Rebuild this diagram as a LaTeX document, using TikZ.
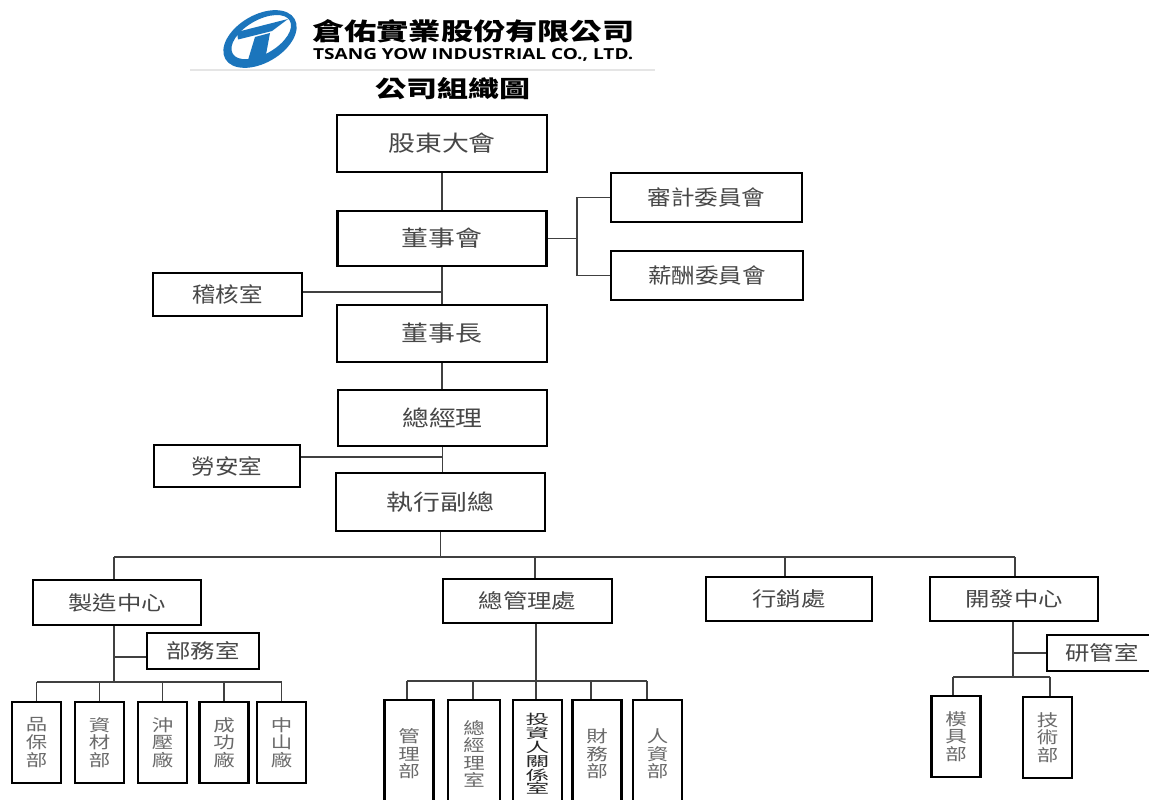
\documentclass[tikz,border=0pt]{standalone}
\usepackage{fontspec}
\usepackage{graphicx}
\newfontfamily\cjkA[FakeStretch=1.22]{Noto Sans CJK TC}
\newfontfamily\cjkB[FakeStretch=1.12]{Noto Sans CJK TC}
\newfontfamily\cjkleaf[FakeStretch=1.3]{Noto Sans CJK TC}
\newfontfamily\cjknarrow[FakeStretch=1.75]{Noto Sans CJK TC}
\newfontfamily\cjkplain{Noto Sans CJK TC}
\newfontfamily\engfont{Open Sans}
\definecolor{logoblue}{HTML}{1B75BC}
\definecolor{boxtext}{HTML}{474747}
\definecolor{leaftext}{HTML}{6A6A6A}
\begin{document}
\begin{tikzpicture}[x=1pt,y=-1pt,
  box/.style={draw=black, line width=2.8pt, inner sep=0pt, fill=white, text=boxtext},
  bigbox/.style={box, font=\cjkA\fontsize{22}{26}\selectfont},
  sidebox/.style={box, font=\cjkB\fontsize{21}{25}\selectfont},
  midbox/.style={box, font=\cjkA\fontsize{20}{24}\selectfont},
  leaf/.style={box, align=center, text=leaftext, minimum width=49pt, font=\cjkleaf\fontsize{16.5}{17.6}\selectfont},
  conn/.style={draw=black!75, line width=1.4pt}
]
\useasboundingbox (0,0) rectangle (1149,800);
\clip (0,0) rectangle (1149,800);
\fill[white] (0,0) rectangle (1149,800);

% ---- logo ----
\fill[logoblue, even odd rule, rotate around={30:(260,39)}]
  (260,39) ellipse [x radius=40, y radius=24]
  (262,38) ellipse [x radius=33, y radius=17];
\fill[logoblue] (237,32) -- (288,19) -- (272,31) -- (238,39.5) -- cycle;
\fill[logoblue] (255,37) -- (270,33) -- (265,60) -- (248,60) -- cycle;
\node[anchor=west, inner sep=0pt] (cname) at (312,31)
  {\resizebox{322pt}{21pt}{\cjkplain\bfseries 倉佑實業股份有限公司}};
\node[anchor=west, inner sep=0pt] (ename) at (313,54.5)
  {\resizebox{320pt}{11pt}{\engfont\bfseries TSANG YOW INDUSTRIAL CO., LTD.}};
\draw[draw=black!10, line width=1.5pt] (190,70) -- (655,70);
\node[inner sep=0pt] (title) at (453,89)
  {\resizebox{155pt}{20pt}{\cjkplain\bfseries 公司組織圖}};

% ---- top chain ----
\node[bigbox, minimum width=210pt, minimum height=57pt] (gsm) at (442,143.5) {股東大會};
\node[bigbox, minimum width=209pt, minimum height=55pt] (bod) at (442,238.5) {董事會};
\node[sidebox, minimum width=191pt, minimum height=49pt] (audit) at (706.5,197.5) {審計委員會};
\node[sidebox, minimum width=192pt, minimum height=49pt] (pay) at (707,275.5) {薪酬委員會};
\node[sidebox, minimum width=149pt, minimum height=43pt] (ia) at (227.5,294.5) {稽核室};
\node[bigbox, minimum width=210pt, minimum height=57pt] (chair) at (442,333.5) {董事長};
\node[bigbox, minimum width=209pt, minimum height=56pt] (gm) at (442.5,418) {總經理};
\node[sidebox, minimum width=146pt, minimum height=42pt] (ls) at (227,466) {勞安室};
\node[bigbox, minimum width=209pt, minimum height=58pt] (evp) at (440.5,502) {執行副總};

\draw[conn] (gsm.south) -- (gsm.south |- bod.north);
\draw[conn] (bod.south) -- (bod.south |- chair.north);
\draw[conn] (chair.south) -- (chair.south |- gm.north);
\draw[conn] (gm.south) -- (gm.south |- evp.north);
\coordinate (cb) at (577,238.5);
\draw[conn] (bod.east) -- (bod.east -| cb);
\draw[conn] (audit.west) -- (audit.west -| cb) -- (pay.west -| cb) -- (pay.west);
\path ([yshift=2.5pt]ia.east) coordinate (iaj);
\draw[conn] (iaj) -- (iaj -| bod.south);
\path ([yshift=9pt]ls.east) coordinate (lsj);
\draw[conn] (lsj) -- (lsj -| gm.south);

% ---- second level ----
\node[midbox, minimum width=168pt, minimum height=45pt] (mfg) at (117,602.5) {製造中心};
\node[midbox, minimum width=169pt, minimum height=44pt] (adm) at (527.5,601) {總管理處};
\node[midbox, minimum width=166pt, minimum height=44pt] (mkt) at (789,599) {行銷處};
\node[midbox, minimum width=168pt, minimum height=44pt] (rd) at (1014,599) {開發中心};

\coordinate (b1) at (114,557);
\coordinate (b2) at (535,557);
\coordinate (b3) at (785,557);
\coordinate (b4) at (1015,557);
\draw[conn] (evp.south) -- (evp.south |- b1);
\draw[conn] (b1) -- (b4);
\draw[conn] (b1) -- (b1 |- mfg.north);
\draw[conn] (b2) -- (b2 |- adm.north);
\draw[conn] (b3) -- (b3 |- mkt.north);
\draw[conn] (b4) -- (b4 |- rd.north);

% ---- manufacturing ----
\node[midbox, minimum width=112pt, minimum height=36pt] (dept) at (203,651) {部務室};
\node[leaf, minimum height=81pt] (q1) at (36.5,742.5) {品\\保\\部};
\node[leaf, minimum height=81pt] (q2) at (99.5,742.5) {資\\材\\部};
\node[leaf, minimum height=81pt] (q3) at (162.5,742.5) {沖\\壓\\廠};
\node[leaf, minimum height=81pt] (q4) at (224,742.5) {成\\功\\廠};
\node[leaf, minimum height=81pt] (q5) at (281.5,742.5) {中\\山\\廠};
\coordinate (mj) at (114,682);
\draw[conn] (mj |- mfg.south) -- (mj);
\path ([yshift=-6pt]dept.west) coordinate (dj);
\draw[conn] (dj) -- (dj -| mj);
\draw[conn] (q1.north |- mj) -- (q5.north |- mj);
\foreach \q in {q1,q2,q3,q4,q5} \draw[conn] (\q.north |- mj) -- (\q.north);

% ---- administration ----
\node[leaf, minimum height=108pt] (a1) at (409,754) {管\\理\\部};
\node[leaf, minimum width=52pt, minimum height=108pt] (a2) at (474,754) {總\\經\\理\\室};
\node[leaf, minimum height=108pt, text=black!85, font=\cjknarrow\fontsize{13.5}{13.8}\selectfont] (a3) at (537.5,754) {投\\資\\人\\關\\係\\室};
\node[leaf, minimum height=108pt] (a4) at (597,754) {財\\務\\部};
\node[leaf, minimum height=108pt] (a5) at (657.5,754) {人\\資\\部};
\coordinate (aj) at (536,681);
\draw[conn] (aj |- adm.south) -- (aj);
\coordinate (d1) at (407,681);
\coordinate (d2) at (473,681);
\coordinate (d3) at (536,681);
\coordinate (d4) at (591,681);
\coordinate (d5) at (647,681);
\draw[conn] (d1) -- (d5);
\draw[conn] (d1) -- (d1 |- a1.north);
\draw[conn] (d2) -- (d2 |- a2.north);
\draw[conn] (d3) -- (d3 |- a3.north);
\draw[conn] (d4) -- (d4 |- a4.north);
\draw[conn] (d5) -- (d5 |- a5.north);

% ---- R&D ----
\node[midbox, minimum width=110pt, minimum height=36pt] (rdo) at (1102,653) {研管室};
\node[leaf, minimum height=81pt] (r1) at (956,736.5) {模\\具\\部};
\node[leaf, minimum height=81pt] (r2) at (1047.5,737.5) {技\\術\\部};
\coordinate (rj) at (1013,677);
\draw[conn] (rj |- rd.south) -- (rj);
\draw[conn] (rdo.west) -- (rdo.west -| rj);
\coordinate (e1) at (953,677);
\coordinate (e2) at (1050,677);
\draw[conn] (e1) -- (e2);
\draw[conn] (e1) -- (e1 |- r1.north);
\draw[conn] (e2) -- (e2 |- r2.north);
\end{tikzpicture}
\end{document}
